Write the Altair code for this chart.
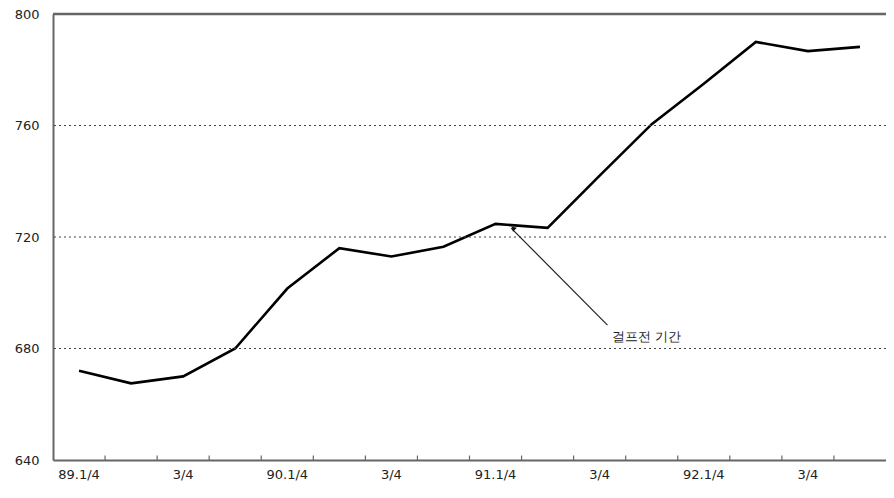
import json
import altair as alt
import pandas as pd

# ---- data ----
quarters = ["89Q1", "89Q2", "89Q3", "89Q4",
            "90Q1", "90Q2", "90Q3", "90Q4",
            "91Q1", "91Q2", "91Q3", "91Q4",
            "92Q1", "92Q2", "92Q3", "92Q4"]
values = [672, 667.5, 670, 680,
          701.5, 716, 713, 716.5,
          724.7, 723.3, 742, 760.5,
          775, 790, 786.7, 788.2]
tick_labels = ["89.1/4", "", "3/4", "", "90.1/4", "", "3/4", "",
               "91.1/4", "", "3/4", "", "92.1/4", "", "3/4", ""]
y_ticks = [640, 680, 720, 760, 800]
grid_values = [680, 720, 760]
frame_top = [800]

# annotation (Gulf War period)
ann_text = ["걸프전 기간"]
ann_start_q = ["91Q1"]
ann_start_v = [723.2]
ann_end_q = ["91Q3"]
ann_end_v = [688.4]
ann_text_v = [684.3]

W, H = 833, 446
FONT = "DejaVu Sans"

df = pd.DataFrame({"q": quarters, "v": values})
ticks_df = pd.DataFrame({"q": quarters[:-1]})
grid_df = pd.DataFrame({"v": grid_values})
top_df = pd.DataFrame({"v": frame_top})
ann_df = pd.DataFrame({"q1": ann_start_q, "v1": ann_start_v,
                       "q2": ann_end_q, "v2": ann_end_v,
                       "t": ann_text, "tv": ann_text_v})

label_expr = "{}[indexof({}, datum.value)]".format(json.dumps(tick_labels), json.dumps(quarters))

xscale = alt.Scale(type="band", domain=quarters, paddingInner=0, paddingOuter=0)
yscale = alt.Scale(domain=[640, 800], nice=False, zero=False)

x_axis = alt.Axis(title=None, ticks=False, grid=False, labelExpr=label_expr,
                  bandPosition=0.5, labelAlign="center",
                  labelAngle=0, labelPadding=8, labelFont=FONT, labelFontSize=13,
                  labelColor="#222", domainColor="#666", domainWidth=2,
                  labelOverlap=False)
y_axis = alt.Axis(title=None, values=y_ticks, ticks=False, grid=False,
                  labelPadding=14, labelFont=FONT, labelFontSize=13,
                  labelColor="#222", domainColor="#666", domainWidth=2)

line = alt.Chart(df).mark_line(color="black", strokeWidth=2.6).encode(
    x=alt.X("q:N", scale=xscale, axis=x_axis, bandPosition=0.5, sort=quarters),
    y=alt.Y("v:Q", scale=yscale, axis=y_axis),
)

grid = alt.Chart(grid_df).mark_rule(color="#444", strokeWidth=1.2, strokeDash=[2, 3]).encode(
    y=alt.Y("v:Q", scale=yscale)
)

top = alt.Chart(top_df).mark_rule(color="#666", strokeWidth=2.5).encode(
    y=alt.Y("v:Q", scale=yscale)
)

xticks = alt.Chart(ticks_df).mark_rule(color="#666", strokeWidth=1.2).encode(
    x=alt.X("q:N", scale=xscale, bandPosition=1, sort=quarters),
    y=alt.YDatum(640, scale=yscale),
    y2=alt.Y2Datum(641.6),
)

arrow_line = alt.Chart(ann_df).mark_rule(color="#222", strokeWidth=1.2).encode(
    x=alt.X("q1:N", scale=xscale, bandPosition=0.8),
    y=alt.Y("v1:Q", scale=yscale),
    x2=alt.X2("q2:N", bandPosition=0.65),
    y2=alt.Y2("v2:Q"),
)

arrow_head = alt.Chart(ann_df).mark_point(shape="triangle-up", filled=True, color="#111",
                                          size=30, angle=315, opacity=1).encode(
    x=alt.X("q1:N", scale=xscale, bandPosition=0.84),
    y=alt.Y("v1:Q", scale=yscale),
)

label = alt.Chart(ann_df).mark_text(align="left", baseline="middle", font=FONT,
                                    fontSize=13, color="#222").encode(
    x=alt.X("q2:N", scale=xscale, bandPosition=0.73),
    y=alt.Y("tv:Q", scale=yscale),
    text="t:N",
)

chart = alt.layer(line, grid, top, xticks, arrow_line, arrow_head, label).properties(
    width=W, height=H,
    autosize=alt.AutoSizeParams(type="none"),
    padding={"left": 45, "top": 6, "right": 0, "bottom": 30},
).configure_view(stroke=None).configure(background="white")

chart.save("out.html", embed_options={"renderer": "svg", "actions": False})
